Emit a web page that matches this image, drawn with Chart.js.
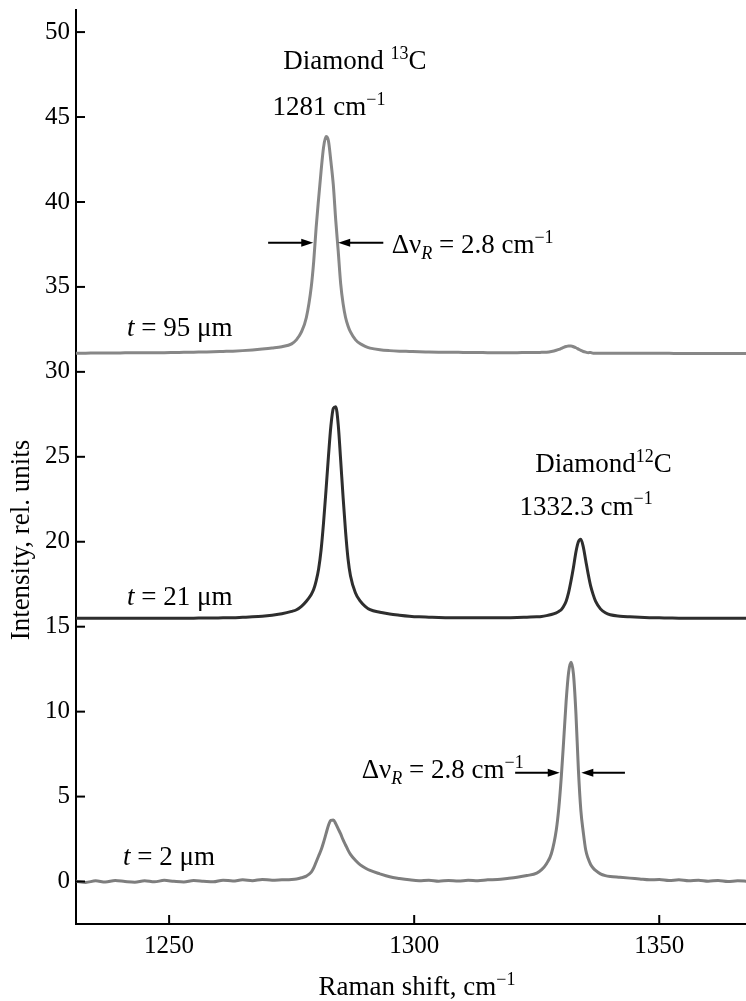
<!DOCTYPE html>
<html>
<head>
<meta charset="utf-8">
<script src="https://cdn.jsdelivr.net/npm/chart.js@4"></script>
<style>
  body { margin: 0; background: #fff; }
</style>
</head>
<body>
<canvas id="grafico" width="746" height="1001"></canvas>
<script>
// Raman shift (cm-1), denser sampling around the two diamond lines
const shift = [1231, 1233, 1235, 1237, 1239, 1241, 1243, 1245, 1247, 1249, 1251, 1253, 1255, 1257, 1259, 1261, 1263, 1265, 1267, 1269, 1271, 1273, 1275,
  1276, 1277, 1278, 1279, 1279.5, 1280, 1280.5, 1281, 1281.5, 1282, 1282.5, 1283, 1283.5, 1284, 1284.5, 1285, 1285.5, 1286, 1286.5, 1287, 1288, 1289, 1290, 1291,
  1293, 1295, 1297, 1299, 1301, 1303, 1305, 1307, 1309, 1311, 1313, 1315, 1317, 1319, 1321, 1323, 1325,
  1326, 1327, 1328, 1329, 1329.5, 1330, 1330.5, 1331, 1331.5, 1332, 1332.5, 1333, 1333.5, 1334, 1334.5, 1335, 1335.5, 1336, 1336.5, 1337, 1338, 1339, 1340,
  1342, 1344, 1346, 1348, 1350, 1352, 1354, 1356, 1358, 1360, 1362, 1364, 1366, 1368]

// t = 95 um (offset spectrum)
const t95 = [31.10, 31.10, 31.11, 31.11, 31.11, 31.12, 31.12, 31.12, 31.13, 31.13, 31.14, 31.15, 31.16, 31.17, 31.18, 31.20, 31.22, 31.25, 31.29, 31.34, 31.40, 31.48, 31.65,
  31.9, 32.35, 33.2, 35.0, 36.5, 38.5, 40.2, 41.8, 43.2, 43.85, 43.6, 42.4, 41.0, 38.9, 37.1, 35.2, 34.0, 33.2, 32.7, 32.35, 31.9, 31.65, 31.5, 31.4,
  31.3, 31.25, 31.22, 31.2, 31.18, 31.17, 31.16, 31.15, 31.15, 31.14, 31.14, 31.13, 31.13, 31.13, 31.13, 31.14, 31.14,
  31.15, 31.16, 31.2, 31.27, 31.32, 31.38, 31.44, 31.49, 31.52, 31.52, 31.48, 31.42, 31.34, 31.26, 31.2, 31.16, 31.13, 31.14, 31.1, 31.1, 31.1, 31.1, 31.1,
  31.10, 31.10, 31.09, 31.09, 31.09, 31.09, 31.08, 31.08, 31.08, 31.08, 31.08, 31.08, 31.08, 31.08]

// t = 21 um
const t21 = [15.50, 15.50, 15.50, 15.50, 15.50, 15.50, 15.50, 15.50, 15.50, 15.50, 15.50, 15.50, 15.50, 15.51, 15.51, 15.52, 15.52, 15.55, 15.58, 15.62, 15.68, 15.76, 15.9,
  16.0, 16.2, 16.5, 16.9, 17.2, 17.7, 18.4, 19.5, 21.1, 23.0, 25.0, 26.8, 27.85, 27.95, 26.9, 24.8, 22.6, 20.6, 19.0, 18.0, 17.0, 16.5, 16.2, 16.0,
  15.85, 15.75, 15.68, 15.62, 15.58, 15.56, 15.54, 15.53, 15.52, 15.52, 15.52, 15.52, 15.52, 15.53, 15.54, 15.56, 15.58,
  15.6, 15.65, 15.72, 15.82, 15.9, 16.0, 16.2, 16.5, 17.0, 17.7, 18.5, 19.4, 20.0, 20.15, 19.7, 18.9, 18.1, 17.4, 16.9, 16.5, 16.05, 15.82, 15.7,
  15.62, 15.58, 15.55, 15.53, 15.52, 15.51, 15.5, 15.5, 15.5, 15.5, 15.5, 15.5, 15.5, 15.5]

// t = 2 um
const t2 = [0.02, -0.05, 0.04, -0.03, 0.06, 0.0, -0.04, 0.05, -0.02, 0.07, 0.01, -0.03, 0.06, 0.02, -0.02, 0.08, 0.03, 0.1, 0.05, 0.12, 0.08, 0.1, 0.12,
  0.15, 0.22, 0.32, 0.55, 0.8, 1.15, 1.5, 1.85, 2.3, 2.8, 3.3, 3.6, 3.62, 3.4, 3.1, 2.8, 2.45, 2.15, 1.85, 1.6, 1.25, 0.98, 0.8, 0.65,
  0.45, 0.28, 0.18, 0.1, 0.05, 0.08, 0.02, 0.06, 0.03, 0.07, 0.05, 0.1, 0.12, 0.18, 0.25, 0.35, 0.5,
  0.7, 1.05, 1.65, 3.05, 4.3, 6.1, 8.3, 10.6, 12.3, 12.9, 12.2, 9.9, 6.6, 4.2, 2.9, 1.85, 1.35, 1.0, 0.8, 0.65, 0.45, 0.35, 0.3,
  0.25, 0.2, 0.15, 0.1, 0.12, 0.06, 0.1, 0.04, 0.08, 0.02, 0.06, 0.0, 0.04, 0.02]

const xTicks = [1250, 1300, 1350]
const yTicks = [0, 5, 10, 15, 20, 25, 30, 35, 40, 45, 50]

const serif = '"Liberation Serif", "Times New Roman", serif'

// draws text made of runs (normal / italic / sub / sup)
function runs(ctx, x, y, parts, size, align) {
  const fontOf = p => (p.it ? 'italic ' : '') + Math.round((p.sup || p.sub) ? size * 0.66 : size) + 'px ' + serif
  let w = 0
  parts.forEach(p => { ctx.font = fontOf(p); w += ctx.measureText(p.t).width })
  let cx = align === 'center' ? x - w / 2 : x
  ctx.textAlign = 'left'
  ctx.textBaseline = 'alphabetic'
  parts.forEach(p => {
    ctx.font = fontOf(p)
    let dy = p.sup ? -size * 0.38 : (p.sub ? size * 0.24 : 0)
    ctx.fillText(p.t, cx, y + dy)
    cx += ctx.measureText(p.t).width
  })
}

function arrow(ctx, x1, x2, y) {
  const dir = x2 > x1 ? 1 : -1
  ctx.beginPath()
  ctx.moveTo(x1, y)
  ctx.lineTo(x2 - dir * 9, y)
  ctx.stroke()
  ctx.beginPath()
  ctx.moveTo(x2, y)
  ctx.lineTo(x2 - dir * 12, y - 4)
  ctx.lineTo(x2 - dir * 12, y + 4)
  ctx.closePath()
  ctx.fill()
}

const extras = {
  id: 'extras',
  afterDraw(chart) {
    const ctx = chart.ctx
    const sx = chart.scales.x
    const sy = chart.scales.y
    const X = v => sx.getPixelForValue(v)
    const Y = v => sy.getPixelForValue(v)
    ctx.save()
    ctx.strokeStyle = '#000'
    ctx.fillStyle = '#000'
    ctx.lineWidth = 2

    // inward tick marks
    yTicks.forEach(v => {
      ctx.beginPath()
      ctx.moveTo(sx.left, Y(v))
      ctx.lineTo(sx.left + 9, Y(v))
      ctx.stroke()
    })
    xTicks.forEach(v => {
      ctx.beginPath()
      ctx.moveTo(X(v), sy.bottom)
      ctx.lineTo(X(v), sy.bottom - 9)
      ctx.stroke()
    })

    // arrows for line widths
    arrow(ctx, X(1270.2), X(1279.4), Y(37.6))
    arrow(ctx, X(1293.7), X(1284.5), Y(37.6))
    arrow(ctx, X(1320.6), X(1329.7), Y(6.4))
    arrow(ctx, X(1343.0), X(1334.1), Y(6.4))

    const fs = 27
    runs(ctx, X(1273.3), Y(47.8), [{ t: 'Diamond ' }, { t: '13', sup: true }, { t: 'C' }], fs)
    runs(ctx, X(1271.1), Y(45.1), [{ t: '1281 cm' }, { t: '\u22121', sup: true }], fs)
    runs(ctx, X(1295.4), Y(37.0), [{ t: '\u0394\u03bd' }, { t: 'R', it: true, sub: true }, { t: ' = 2.8 cm' }, { t: '\u22121', sup: true }], fs)
    runs(ctx, X(1324.7), Y(24.1), [{ t: 'Diamond' }, { t: '12', sup: true }, { t: 'C' }], fs)
    runs(ctx, X(1321.5), Y(21.6), [{ t: '1332.3 cm' }, { t: '\u22121', sup: true }], fs)
    runs(ctx, X(1289.3), Y(6.1), [{ t: '\u0394\u03bd' }, { t: 'R', it: true, sub: true }, { t: ' = 2.8 cm' }, { t: '\u22121', sup: true }], fs)

    runs(ctx, X(1241.4), Y(32.1), [{ t: 't', it: true }, { t: ' = 95 \u03bcm' }], fs)
    runs(ctx, X(1241.4), Y(16.3), [{ t: 't', it: true }, { t: ' = 21 \u03bcm' }], fs)
    runs(ctx, X(1240.6), Y(1.0), [{ t: 't', it: true }, { t: ' = 2 \u03bcm' }], fs)

    // axis titles
    runs(ctx, (sx.left + sx.right) / 2 + 6, 995, [{ t: 'Raman shift, cm' }, { t: '\u22121', sup: true }], 27, 'center')
    ctx.translate(29, 540)
    ctx.rotate(-Math.PI / 2)
    runs(ctx, 0, 0, [{ t: 'Intensity, rel. units' }], 27, 'center')
    ctx.restore()
  }
}

const grafico = document.getElementById('grafico').getContext('2d')

const serie = (vals, color) => ({
  data: shift.map((x, i) => ({ x: x, y: vals[i] })),
  borderColor: color,
  borderWidth: 3,
  pointRadius: 0,
  cubicInterpolationMode: 'monotone',
  fill: false
})

const meuGrafico = new Chart(grafico, {
  type: 'line',
  data: {
    datasets: [
      serie(t95, '#878787'),
      serie(t21, '#2e2e2e'),
      serie(t2, '#7e7e7e')
    ]
  },
  options: {
    responsive: false,
    animation: false,
    layout: { padding: { top: 10, left: 0, right: 0, bottom: 0 } },
    plugins: { legend: { display: false }, tooltip: { enabled: false } },
    scales: {
      x: {
        type: 'linear',
        min: 1231,
        max: 1367.7,
        afterBuildTicks: s => { s.ticks = xTicks.map(v => ({ value: v })) },
        afterFit: s => { s.height = 77; s.paddingLeft = 0; s.paddingRight = 0 },
        ticks: { font: { family: serif, size: 25 }, color: '#000', padding: 7, maxRotation: 0, callback: v => String(v) },
        grid: { display: false, drawTicks: false },
        border: { color: '#000', width: 2 }
      },
      y: {
        min: -2.5,
        max: 51.3,
        afterBuildTicks: s => { s.ticks = yTicks.map(v => ({ value: v })) },
        afterFit: s => { s.width = 76; s.paddingTop = 0; s.paddingBottom = 0 },
        ticks: { font: { family: serif, size: 25 }, color: '#000', padding: 6, callback: v => String(v) },
        grid: { display: false, drawTicks: false },
        border: { color: '#000', width: 2 }
      }
    }
  },
  plugins: [extras]
})
</script>
</body>
</html>
